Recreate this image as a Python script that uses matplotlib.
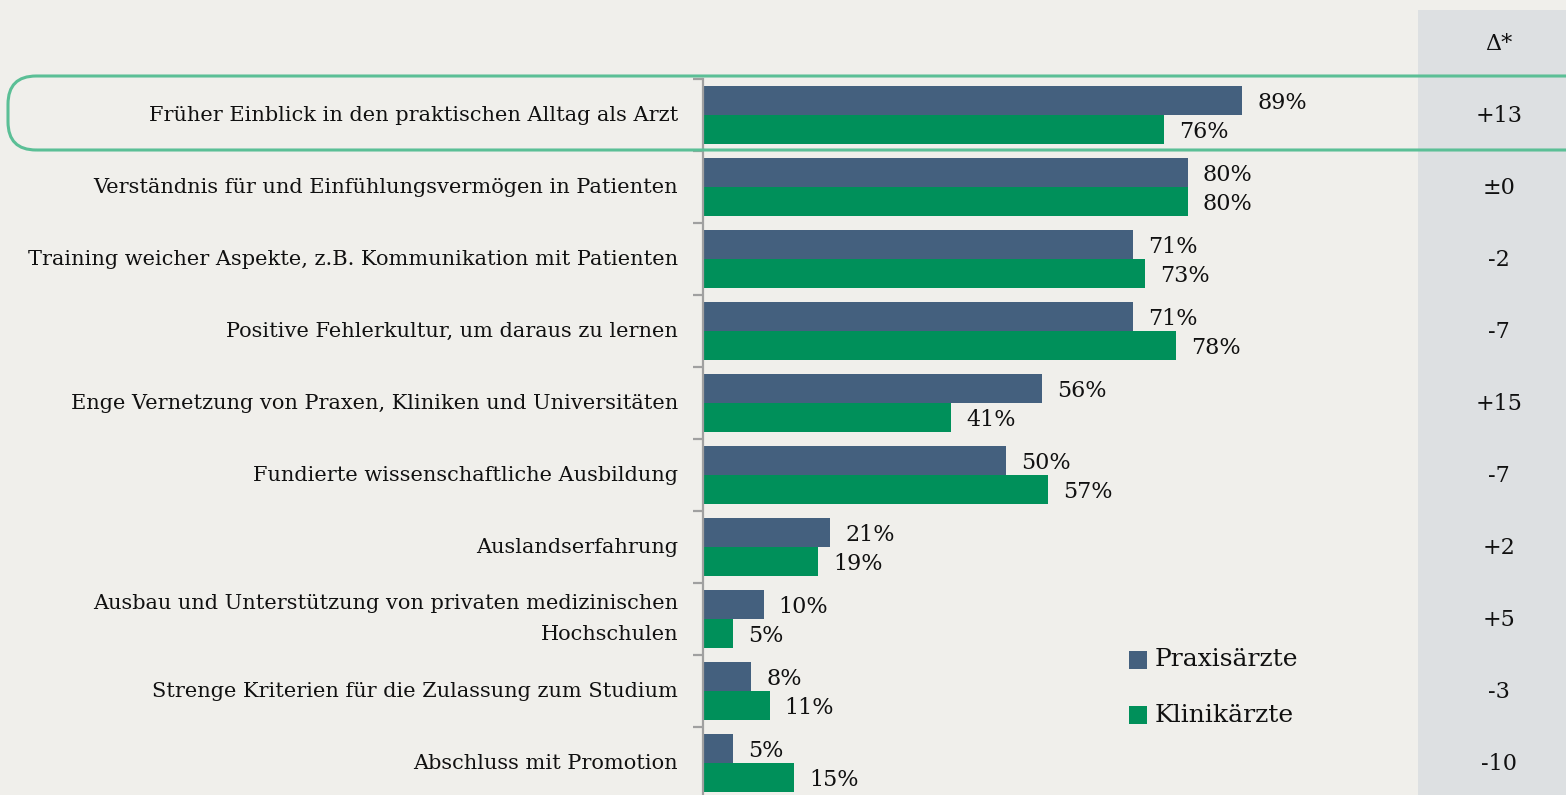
import matplotlib
matplotlib.use("Agg")
import matplotlib.pyplot as plt
from matplotlib.patches import FancyBboxPatch, Rectangle
import numpy as np

categories = [
    "Früher Einblick in den praktischen Alltag als Arzt",
    "Verständnis für und Einfühlungsvermögen in Patienten",
    "Training weicher Aspekte, z.B. Kommunikation mit Patienten",
    "Positive Fehlerkultur, um daraus zu lernen",
    "Enge Vernetzung von Praxen, Kliniken und Universitäten",
    "Fundierte wissenschaftliche Ausbildung",
    "Auslandserfahrung",
    "Ausbau und Unterstützung von privaten medizinischen\nHochschulen",
    "Strenge Kriterien für die Zulassung zum Studium",
    "Abschluss mit Promotion",
]
praxis = [89, 80, 71, 71, 56, 50, 21, 10, 8, 5]
klinik = [76, 80, 73, 78, 41, 57, 19, 5, 11, 15]
delta = ["+13", "±0", "-2", "-7", "+15", "-7", "+2", "+5", "-3", "-10"]
series_names = ["Praxisärzte", "Klinikärzte"]

W, H = 1566, 795
BG = "#f0efeb"
BLUE = "#44607e"
GREEN = "#00905a"
GRAYCOL = "#dde0e2"
BOXC = "#5bbf96"
FONT = "DejaVu Serif"

fig = plt.figure(figsize=(W / 100, H / 100), dpi=100, facecolor=BG)

# gray delta column
fig.patches.append(Rectangle((1418 / W, 0), (W - 1418) / W, (H - 10) / H,
                             transform=fig.transFigure, facecolor=GRAYCOL,
                             edgecolor="none", zorder=0))

ax_left, ax_right = 703, 1418
ax_top, ax_bot = 79, 795
ax = fig.add_axes([ax_left / W, (H - ax_bot) / H, (ax_right - ax_left) / W,
                   (ax_bot - ax_top) / H])
ax.set_facecolor("none")
px_per_pct = 6.06
ax.set_xlim(0, (ax_right - ax_left) / px_per_pct)
ax.set_ylim(9 + (795 - 763) / 72, -0.5)

y = np.arange(len(categories))
bh = 0.4
ax.barh(y - bh / 2, praxis, height=bh, color=BLUE, edgecolor="none")
ax.barh(y + bh / 2, klinik, height=bh, color=GREEN, edgecolor="none")

dy = 0.035
for i in range(len(categories)):
    ax.text(praxis[i] + 2.5, y[i] - bh / 2 + dy, f"{praxis[i]}%", va="center",
            ha="left", fontsize=16, family=FONT, color="#111111")
    ax.text(klinik[i] + 2.5, y[i] + bh / 2 + dy, f"{klinik[i]}%", va="center",
            ha="left", fontsize=16, family=FONT, color="#111111")

for s in ["top", "right", "bottom"]:
    ax.spines[s].set_visible(False)
ax.spines["left"].set_color("#a0a0a0")
ax.spines["left"].set_linewidth(1.6)
ax.set_xticks([])
ax.set_yticks(np.arange(len(categories)) - 0.5)
ax.set_yticklabels([])
ax.tick_params(axis="y", direction="out", length=7, width=1.6, color="#a0a0a0")

# category labels
for i, c in enumerate(categories):
    ax.text(-25 / px_per_pct, y[i], c, ha="right", va="center", fontsize=15,
            family=FONT, color="#111111", linespacing=1.75, clip_on=False)

# delta column
cx = 1499 / W
fig.text(cx, 1 - 44 / H, "Δ*", ha="center", va="center", fontsize=16,
         family=FONT, color="#111111")
for i, d in enumerate(delta):
    yc = 116 + 72 * i
    fig.text(cx, 1 - yc / H, d, ha="center", va="center", fontsize=16,
             family=FONT, color="#111111")

# highlight box
box = FancyBboxPatch((8 / W, 1 - 150 / H), 1700 / W, 74 / H,
                     boxstyle="round,pad=0,rounding_size=0.018",
                     transform=fig.transFigure, facecolor="none",
                     edgecolor=BOXC, linewidth=2.2, zorder=5,
                     mutation_aspect=W / H)
fig.patches.append(box)

# legend
for k, (name, col) in enumerate(zip(series_names, [BLUE, GREEN])):
    yc = 660 + 55 * k
    fig.patches.append(Rectangle((1129 / W, 1 - (yc + 9) / H), 18 / W, 18 / H,
                                 transform=fig.transFigure, facecolor=col,
                                 edgecolor="none"))
    fig.text(1155 / W, 1 - yc / H, name, ha="left", va="center", fontsize=18,
             family=FONT, color="#111111")

fig.savefig("out.png", dpi=100, facecolor=BG)
